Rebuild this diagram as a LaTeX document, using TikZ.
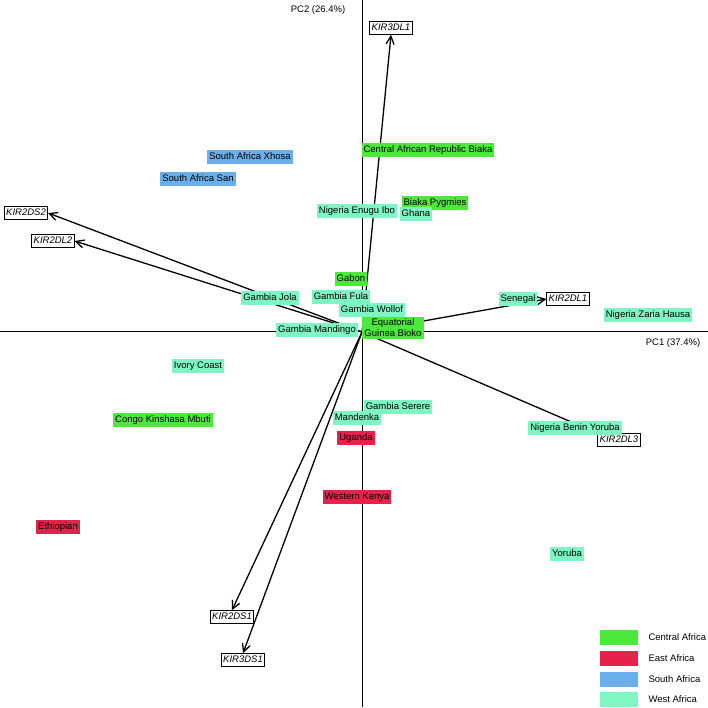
\documentclass[tikz,border=0pt]{standalone}
\usepackage{fontspec}
\setmainfont{Liberation Sans}
\usetikzlibrary{arrows.meta}
\definecolor{cen}{HTML}{4DE83C}
\definecolor{eas}{HTML}{E8204C}
\definecolor{sou}{HTML}{6AAEEA}
\definecolor{wes}{HTML}{80F5C4}
\begin{document}
\begin{tikzpicture}[x=1pt,y=-1pt,font=\fontsize{9.5}{11}\selectfont,
 lab/.style={inner xsep=2pt,inner ysep=2.5pt,text height=7pt,text depth=2pt},
 cn/.style={lab,fill=cen},ea/.style={lab,fill=eas},so/.style={lab,fill=sou},we/.style={lab,fill=wes},
 kir/.style={draw,line width=1pt,inner sep=1.8pt,font=\fontsize{9.5}{11}\selectfont\itshape,text height=7pt,text depth=2pt},
 vec/.style={line width=1.3pt,-{Straight Barb[length=8pt,width=8pt]}}]
\useasboundingbox (0,0) rectangle (708,707);
\coordinate (xl) at (0,331); \coordinate (xr) at (708,331);
\coordinate (yt) at (362,0); \coordinate (yb) at (362,707);
\draw[line width=1pt] (xl)--(xr) (yt)--(yb);
\node at (318,10) {PC2 (26.4\%)};
\node at (673,343) {PC1 (37.4\%)};
\coordinate (O) at (362,332);
% vectors
\node[kir] (k1) at (391,28) {KIR3DL1};
\node[kir] (k2) at (26,213) {KIR2DS2};
\node[kir] (k3) at (53,241) {KIR2DL2};
\node[kir] (k4) at (568,299) {KIR2DL1};
\node[kir] (k5) at (619,440) {KIR2DL3};
\node[kir] (k6) at (232,617) {KIR2DS1};
\node[kir] (k7) at (243,660) {KIR3DS1};
\draw[vec] (O) -- (k1.south);
\draw[vec] (O) -- (k2.east);
\draw[vec] (O) -- (k3.east);
\draw[vec] (O) -- (k4.west);
\draw[vec] (O) -- (k5.north west);
\draw[vec] (O) -- (k6.north);
\draw[vec] (O) -- (k7.north);
% labels
\node[cn] (a1) at (428,150) {Central African Republic Biaka};
\node[so] (a2) at (250,157) {South Africa Xhosa};
\node[so] (a3) at (198,179) {South Africa San};
\node[cn] (a4) at (435,203) {Biaka Pygmies};
\node[we] (a5) at (416,214) {Ghana};
\node[we] (a6) at (357,211) {Nigeria Enugu Ibo};
\node[cn] (a7) at (351,279) {Gabon};
\node[we] (a8) at (341,297) {Gambia Fula};
\node[we] (a9) at (270,298) {Gambia Jola};
\node[we] (a10) at (372,310) {Gambia Wollof};
\node[we] (a11) at (518,299) {Senegal};
\node[we] (a12) at (648,315) {Nigeria Zaria Hausa};
\node[cn,align=center,text height=,text depth=] (a13) at (393,328) {Equatorial\\Guinea Bioko};
\node[we] (a14) at (317,330) {Gambia Mandingo};
\node[we] (a15) at (198,366) {Ivory Coast};
\node[cn] (a16) at (163,420) {Congo Kinshasa Mbuti};
\node[we] (a17) at (398,407) {Gambia Serere};
\node[we] (a18) at (357,418) {Mandenka};
\node[ea] (a19) at (356,438) {Uganda};
\node[we] (a20) at (575,428) {Nigeria Benin Yoruba};
\node[ea] (a21) at (357,497) {Western Kenya};
\node[ea] (a22) at (58,527) {Ethiopian};
\node[we] (a23) at (567,554) {Yoruba};
% legend
\foreach \c/\t/\y [count=\i] in {cen/Central Africa/637,eas/East Africa/658,sou/South Africa/679,wes/West Africa/699}{
 \node[fill=\c,minimum width=38pt,minimum height=15pt,inner sep=0pt] (lg\i) at (619,\y) {};
 \node[anchor=west] (lt\i) at (645,\y) {\t};
}
\end{tikzpicture}
\end{document}
